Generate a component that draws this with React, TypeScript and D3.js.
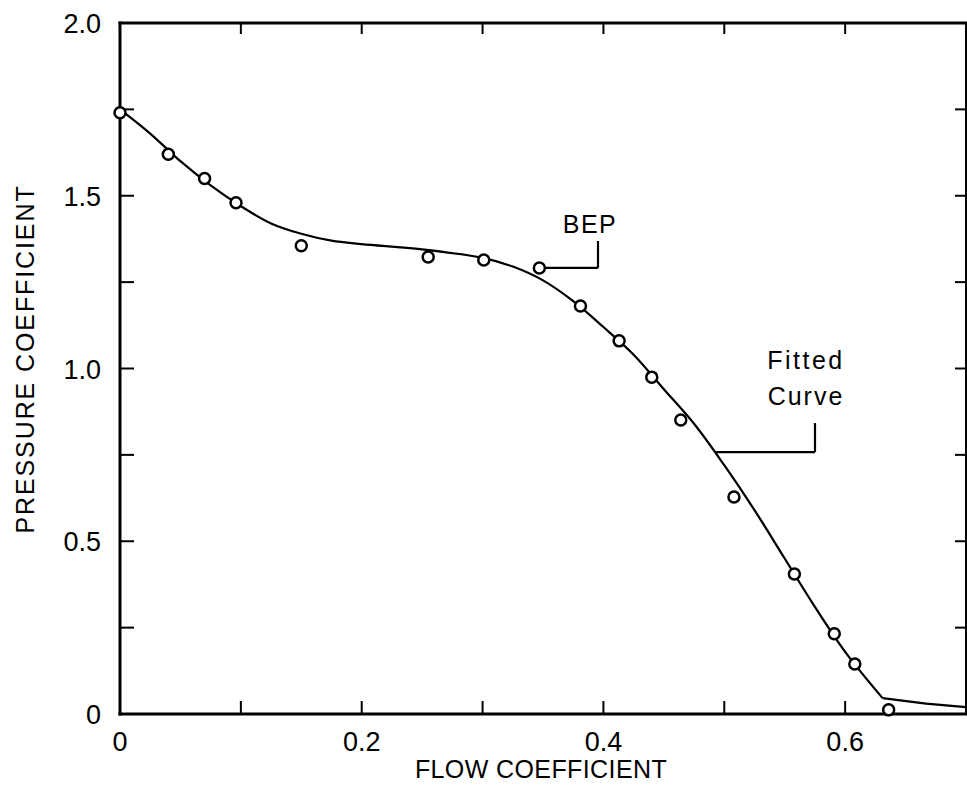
import React from "react";
import * as d3 from "d3";

const measuredX = [0, 0.04, 0.07, 0.096, 0.15, 0.255, 0.301, 0.347, 0.381, 0.413, 0.44, 0.464, 0.508, 0.558, 0.591, 0.608, 0.636];
const measuredY = [1.74, 1.62, 1.55, 1.48, 1.355, 1.323, 1.314, 1.291, 1.181, 1.08, 0.975, 0.851, 0.628, 0.405, 0.232, 0.145, 0.012];

const fitX = [0, 0.025, 0.05, 0.075, 0.1, 0.125, 0.15, 0.175, 0.2, 0.25, 0.3, 0.325, 0.35, 0.375, 0.4, 0.425, 0.45, 0.475, 0.5, 0.525, 0.55, 0.575, 0.6, 0.631];
const fitY = [1.75, 1.68, 1.60, 1.53, 1.47, 1.42, 1.39, 1.37, 1.36, 1.345, 1.32, 1.295, 1.255, 1.195, 1.12, 1.04, 0.94, 0.84, 0.72, 0.59, 0.45, 0.31, 0.18, 0.046];
const tailX = [0.631, 0.667, 0.7];
const tailY = [0.046, 0.03, 0.02];

const xTicks = [0, 0.1, 0.2, 0.3, 0.4, 0.5, 0.6, 0.7];
const xTickLabels = ["0", "", "0.2", "", "0.4", "", "0.6", ""];
const yTicks = [0, 0.25, 0.5, 0.75, 1.0, 1.25, 1.5, 1.75, 2.0];
const yTickLabels = ["0", "", "0.5", "", "1.0", "", "1.5", "", "2.0"];

const FONT = "'Liberation Sans', Arial, sans-serif";

export default function App() {
  const x = d3.scaleLinear().domain([0, 0.7]).range([120, 966]);
  const y = d3.scaleLinear().domain([0, 2]).range([714, 23]);

  const fitPts = fitX.map((v, i) => [v, fitY[i]] as [number, number]);
  const tailPts = tailX.map((v, i) => [v, tailY[i]] as [number, number]);
  const smooth = d3.line<[number, number]>().x(d => x(d[0])).y(d => y(d[1])).curve(d3.curveCatmullRom.alpha(0.5));
  const straight = d3.line<[number, number]>().x(d => x(d[0])).y(d => y(d[1]));

  const bepI = 7;
  const bx = x(measuredX[bepI]);
  const by = y(measuredY[bepI]);
  const fx = x(0.493);
  const fy = y(0.758);

  return (
    <svg width={967} height={787} style={{ position: "absolute", left: 0, top: 0, background: "#fff" }}>
      {/* frame */}
      <g stroke="#000" strokeWidth={3} fill="none" strokeLinecap="square">
        <line x1={x(0)} y1={y(0)} x2={x(0)} y2={y(2)} />
        <line x1={x(0)} y1={y(0)} x2={x(0.7)} y2={y(0)} />
        <line x1={x(0)} y1={y(2)} x2={x(0.7)} y2={y(2)} />
        <line x1={x(0.7)} y1={y(2)} x2={x(0.7)} y2={y(0)} strokeWidth={2} />
      </g>
      {/* ticks */}
      <g stroke="#000" strokeWidth={2}>
        {xTicks.slice(1, -1).map((t, i) => (
          <g key={"xt" + i}>
            <line x1={x(t)} x2={x(t)} y1={y(0)} y2={y(0) - 13} />
            <line x1={x(t)} x2={x(t)} y1={y(2)} y2={y(2) + 11} />
          </g>
        ))}
        {yTicks.slice(1, -1).map((t, i) => (
          <g key={"yt" + i}>
            <line x1={x(0)} x2={x(0) + 14} y1={y(t)} y2={y(t)} />
            <line x1={x(0.7)} x2={x(0.7) - 11} y1={y(t)} y2={y(t)} />
          </g>
        ))}
      </g>
      {/* tick labels */}
      <g fontFamily={FONT} fontSize={27} fill="#000">
        {xTicks.map((t, i) => xTickLabels[i] ? (
          <text key={"xl" + i} x={x(t)} y={751} textAnchor="middle">{xTickLabels[i]}</text>
        ) : null)}
        {yTicks.map((t, i) => yTickLabels[i] ? (
          <text key={"yl" + i} x={101} y={y(t) + 10} textAnchor="end">{yTickLabels[i]}</text>
        ) : null)}
      </g>
      {/* axis titles */}
      <text x={541} y={778} textAnchor="middle" fontFamily={FONT} fontSize={25} letterSpacing={0.4}>FLOW COEFFICIENT</text>
      <text transform={`translate(34,359) rotate(-90)`} textAnchor="middle" fontFamily={FONT} fontSize={25} letterSpacing={1.9}>PRESSURE COEFFICIENT</text>
      {/* fitted curve */}
      <path d={smooth(fitPts) || ""} fill="none" stroke="#000" strokeWidth={2.2} />
      <path d={straight(tailPts) || ""} fill="none" stroke="#000" strokeWidth={2.2} />
      {/* measured points */}
      {measuredX.map((v, i) => (
        <circle key={"p" + i} cx={x(v)} cy={y(measuredY[i])} r={5.5} fill="#fff" stroke="#000" strokeWidth={2.5} />
      ))}
      {/* annotations */}
      <g stroke="#000" strokeWidth={2.2} fill="none">
        <line x1={bx + 6} y1={by} x2={598} y2={by} />
        <line x1={598} y1={by} x2={598} y2={241} />
        <line x1={fx} y1={fy} x2={815} y2={fy} />
        <line x1={815} y1={fy} x2={815} y2={423} />
      </g>
      <text x={590} y={233} textAnchor="middle" fontFamily={FONT} fontSize={25} letterSpacing={1.5}>BEP</text>
      <text x={806} y={369} textAnchor="middle" fontFamily={FONT} fontSize={25} letterSpacing={2.5}>Fitted</text>
      <text x={806} y={405} textAnchor="middle" fontFamily={FONT} fontSize={25} letterSpacing={2}>Curve</text>
    </svg>
  );
}
